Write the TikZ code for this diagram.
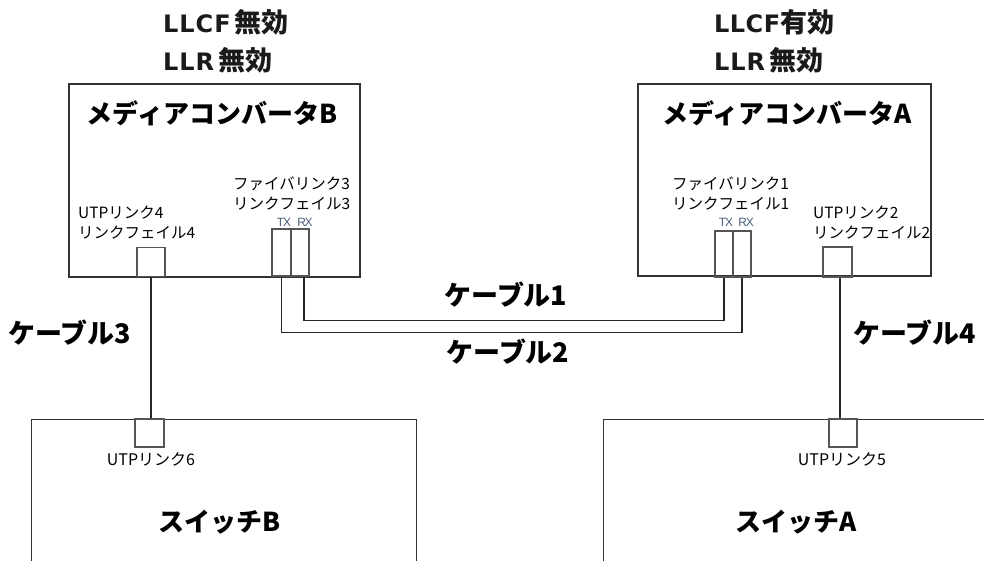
\documentclass[tikz,border=0pt]{standalone}
\usepackage{fontspec}
\setmainfont{Noto Sans CJK JP}
\newfontfamily\jp{Noto Sans CJK JP}
\newfontfamily\latf{DejaVu Sans}[LetterSpace=4]
\newfontfamily\latg{DejaVu Sans}[LetterSpace=2]
\newfontfamily\txf{Liberation Sans}[LetterSpace=-10]
\definecolor{edge}{HTML}{333333}
\definecolor{portc}{HTML}{555555}
\definecolor{txc}{HTML}{4A5F7A}
\definecolor{hdrc}{HTML}{1A1A1A}
\newcommand{\lat}[1]{{\latf\bfseries\fontsize{24}{28}\selectfont #1}}
\newcommand{\latn}[1]{{\latg\bfseries\fontsize{24}{28}\selectfont #1}}
\newcommand{\kj}[1]{{\jp\bfseries\fontsize{27}{28}\selectfont #1}}
\tikzset{
  x=1pt, y=1pt,
  dev/.style={draw=edge, line width=1.1pt, inner sep=0pt},
  port/.style={draw=portc, line width=1.1pt, inner sep=0pt, minimum width=#1},
  port/.default=18pt,
  wire/.style={draw=black!85, line width=1.1pt},
  ttl/.style={font=\jp\bfseries\fontsize{26}{30}\selectfont, inner sep=0pt},
  cab/.style={font=\jp\bfseries\fontsize{27}{31}\selectfont, inner sep=0pt},
  hdr/.style={text=hdrc, inner sep=0pt, anchor=west},
  lbl/.style={font=\jp\fontsize{15.5}{20}\selectfont, inner sep=0pt, anchor=west, align=left},
  sml/.style={font=\jp\fontsize{16}{18}\selectfont, inner sep=0pt},
  trx/.style={font=\txf\fontsize{12}{14}\selectfont, text=txc, inner sep=0pt},
}
\begin{document}
\begin{tikzpicture}
\useasboundingbox (0,0) rectangle (984,-561);
\clip (0,0) rectangle (984,-561);
\fill[white] (0,0) rectangle (984,-561);

% headers
\node[hdr] (hb1) at (163,-22) {\lat{LLCF}\hspace{4pt}\kj{無効}};
\node[hdr] (hb2) at (163,-60) {\lat{LLR}\hspace{4pt}\kj{無効}};
\node[hdr] (ha1) at (714,-22) {\latn{LLCF}\kj{有効}};
\node[hdr] (ha2) at (714,-60) {\lat{LLR}\hspace{4pt}\kj{無効}};

% media converters
\node[dev, minimum width=291pt, minimum height=193pt] (mcb) at (214.5,-180.5) {};
\node[dev, minimum width=293pt, minimum height=192pt] (mca) at (784.5,-180) {};
\node[ttl] (mcbt) at (212,-113) {メディアコンバータB};
\node[ttl] (mcat) at (787,-113) {メディアコンバータA};

% labels inside converters
\node[lbl] (lb3) at (233,-193) {ファイバリンク3\\リンクフェイル3};
\node[lbl] (lb4) at (78,-223) {UTPリンク4\\リンクフェイル4};
\node[lbl] (la1) at (672,-193) {ファイバリンク1\\リンクフェイル1};
\node[lbl] (la2) at (813,-223) {UTPリンク2\\リンクフェイル2};

% ports of converter B
\node[port=28pt, minimum height=29pt] (bu) at (151,-262) {};
\node[port=19pt, minimum height=47pt] (btx) at (281.5,-252.5) {};
\node[port=18pt, minimum height=47pt] (brx) at (300,-252.5) {};
\node[trx] (btxl) at (284,-222) {TX};
\node[trx] (brxl) at (305,-222) {RX};

% ports of converter A
\node[port=18pt, minimum height=46pt] (atx) at (724,-254) {};
\node[port=18pt, minimum height=46pt] (arx) at (742,-254) {};
\node[port=29pt, minimum height=30pt] (au) at (837.5,-262) {};
\node[trx] (atxl) at (726,-222) {TX};
\node[trx] (arxl) at (746,-222) {RX};

% switches
\node[dev, anchor=north west, minimum width=385pt, minimum height=200pt] (swb) at (31,-419) {};
\node[dev, anchor=north west, minimum width=450pt, minimum height=200pt] (swa) at (603,-419) {};
\node[port=29pt, minimum height=28pt] (bu6) at (149.5,-433) {};
\node[port=28pt, minimum height=28pt] (au5) at (843,-433) {};
\node[sml] (l6) at (151,-459) {UTPリンク6};
\node[sml] (l5) at (842,-459) {UTPリンク5};
\node[ttl] (swbt) at (220,-522) {スイッチB};
\node[ttl] (swat) at (796,-522) {スイッチA};

% fibre cables
\draw[wire] ([xshift=4pt]brx.south) -- ++(0,-44) -| (atx.south);
\draw[wire] (btx.south) -- ++(0,-56) -| (arx.south);
\node[cab] (c1) at (506,-295) {ケーブル1};
\node[cab] (c2) at (508,-352) {ケーブル2};

% UTP cables
\draw[wire] (bu.south) -- (bu.south |- bu6.north);
\draw[wire] ([xshift=2.5pt]au.south) -- ([xshift=2.5pt]au.south |- au5.north);
\node[cab, anchor=west] (c3) at (8,-333) {ケーブル3};
\node[cab, anchor=west] (c4) at (853,-333) {ケーブル4};
\end{tikzpicture}
\end{document}
